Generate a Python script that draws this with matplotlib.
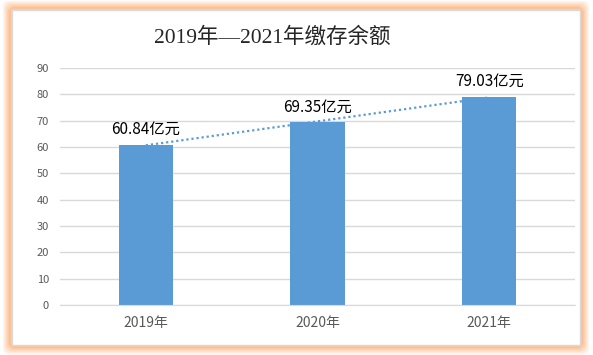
import numpy as np
import matplotlib
matplotlib.use("Agg")
import matplotlib.pyplot as plt
from matplotlib.patches import FancyBboxPatch

plt.rcParams['font.family'] = ['Noto Sans CJK SC', 'DejaVu Sans']

years = ["2019年", "2020年", "2021年"]
balances = [60.84, 69.35, 79.03]
labels = ["60.84亿元", "69.35亿元", "79.03亿元"]
title = "2019年—2021年缴存余额"

fig = plt.figure(figsize=(5.93, 3.55), dpi=100)

# orange glow frame
for i, a in enumerate([0.12, 0.2, 0.3, 0.45, 0.65]):
    pad = (5 - i) * 1.5
    fig.patches.append(FancyBboxPatch(
        (12 - pad, 10 - pad), 568 + 2 * pad, 335 + 2 * pad,
        boxstyle="round,pad=0,rounding_size=4", transform=None,
        facecolor="none", edgecolor="#fdb27a", linewidth=2.5, alpha=a, zorder=-10))
fig.patches.append(FancyBboxPatch(
    (12, 10), 568, 335, boxstyle="square,pad=0", transform=None,
    facecolor="white", edgecolor="#d9d9d9", linewidth=1, zorder=-9))

ax = fig.add_axes([60 / 593, 50 / 355, 515 / 593, 237 / 355])
ax.set_zorder(1)
ax.set_facecolor("none")
x = np.arange(len(years))
ax.bar(x, balances, width=0.315, color="#5b9bd5", zorder=2)

# linear trendline (behind bars, like excel)
k, b = np.polyfit(x, balances, 1)
ax.plot(x, k * x + b, linestyle=(0, (1, 1.3)), color="#5b9bd5", linewidth=1.6, zorder=1.5)

for xi, v, t in zip(x, balances, labels):
    ax.text(xi, v + 2.6, t, ha="center", va="bottom", fontsize=11, color="black", zorder=4)

ax.set_xlim(-0.5, 2.5)
ax.set_ylim(0, 90)
ax.set_yticks(range(0, 91, 10))
ax.yaxis.grid(True, color="#d9d9d9", linewidth=1)
ax.set_axisbelow(True)
for s in ["top", "right", "left"]:
    ax.spines[s].set_visible(False)
ax.spines["bottom"].set_color("#d9d9d9")
ax.tick_params(axis="y", length=0, labelsize=8, labelcolor="#595959", pad=8)
ax.tick_params(axis="x", length=0, labelsize=10, labelcolor="#595959", pad=8)
ax.set_xticks(x)
ax.set_xticklabels(years)

fig.text(272 / 593, 1 - 38 / 355, title, ha="center", va="center", fontsize=15.5,
         color="#262626", family=["Liberation Serif", "Noto Sans CJK SC"])

fig.savefig("out.png", dpi=100)
